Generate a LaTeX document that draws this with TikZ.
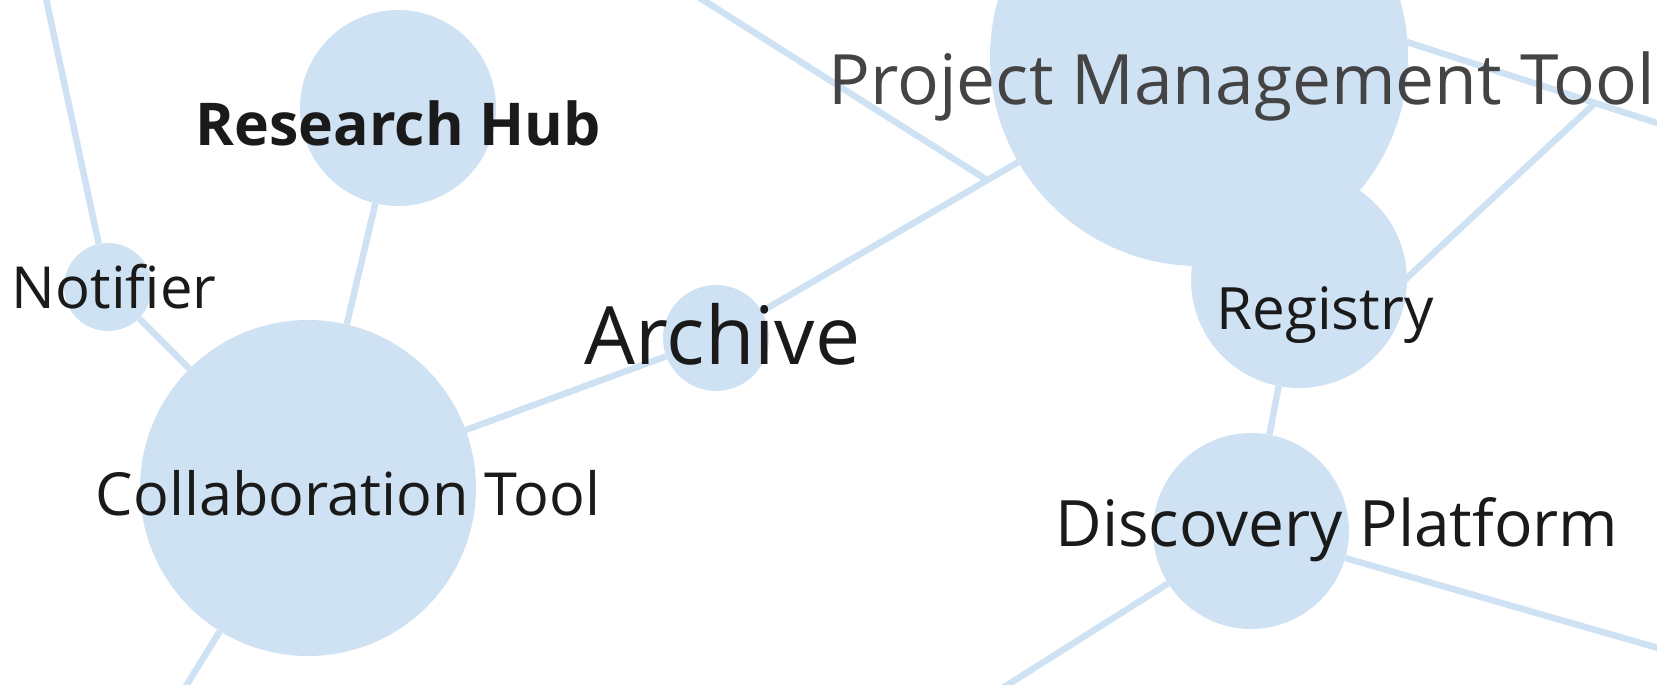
\documentclass[tikz,border=0pt]{standalone}
\usepackage{fontspec}
\setmainfont{Open Sans}
\usetikzlibrary{backgrounds}
\definecolor{bubble}{HTML}{CFE2F3}
\definecolor{ink}{HTML}{1A1A1A}
\definecolor{graylabel}{HTML}{444444}
\tikzset{
  bub/.style={circle, fill=bubble, draw=none, inner sep=0pt},
  lbl/.style={anchor=base, inner sep=0pt, text=ink},
  link/.style={draw=bubble, line width=6.5pt},
}
\begin{document}
\begin{tikzpicture}[x=1pt,y=-1pt]
\useasboundingbox (0,0) rectangle (1657,685);
% bubbles
\node[bub, minimum size=196pt] (rh) at (398,108) {};
\node[bub, minimum size=88pt]  (nt) at (108,287) {};
\node[bub, minimum size=336pt] (ct) at (308,488) {};
\node[bub, minimum size=106pt] (ar) at (716,338) {};
\node[bub, minimum size=418pt] (pm) at (1199,57) {};
\node[bub, minimum size=216pt] (rg) at (1299,280) {};
\node[bub, minimum size=196pt] (dp) at (1251,531) {};
% free ends
\coordinate (tl1) at (37.8,-40);
\coordinate (bl1) at (162,725);
\coordinate (tp2) at (640,-40);
\coordinate (j1)  at (987,180);
\coordinate (pa)  at (1300,7.3);
\coordinate (pb)  at (1700,137);
\coordinate (j2)  at (1595,103);
\coordinate (ra)  at (1350,331);
\coordinate (bl2) at (944,725);
\coordinate (rt2) at (1700,660);
% labels
\node[lbl, font=\bfseries\fontsize{59}{70}\selectfont] (rh-t) at (398,145.5) {Research Hub};
\node[lbl, font=\fontsize{58}{69}\selectfont] (nt-t) at (114,308) {Notifier};
\node[lbl, font=\fontsize{59.4}{70}\selectfont] (ct-t) at (348,515.5) {Collaboration Tool};
\node[lbl, font=\fontsize{80.5}{96}\selectfont] (ar-t) at (722.5,364) {Archive};
\node[lbl, font=\fontsize{69.5}{83}\selectfont, text=graylabel] (pm-t) at (1242,104) {Project Management Tool};
\node[lbl, font=\fontsize{58.4}{70}\selectfont] (rg-t) at (1325,329) {Registry};
\node[lbl, font=\fontsize{64}{76}\selectfont] (dp-t) at (1337,546) {Discovery Platform};
% connectors
\begin{pgfonlayer}{background}
\draw[link] (tl1) -- (nt);
\draw[link] (nt) -- (ct);
\draw[link] (rh) -- (ct);
\draw[link] (ct) -- (bl1);
\draw[link] (ct) -- (ar);
\draw[link] (ar) -- (pm);
\draw[link] (tp2) -- (j1);
\draw[link] (pa) -- (pb);
\draw[link] (ra) -- (j2);
\draw[link] (rg) -- (dp);
\draw[link] (dp) -- (bl2);
\draw[link] (dp) -- (rt2);
\end{pgfonlayer}
\end{tikzpicture}
\end{document}
